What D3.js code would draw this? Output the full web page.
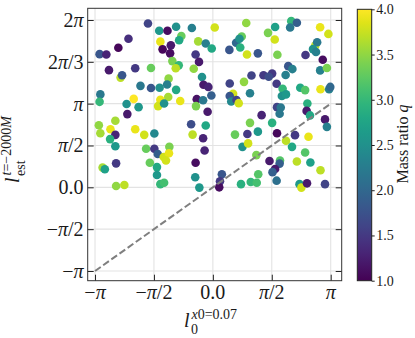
<!doctype html>
<html>
<head>
<style>
    body { margin: 0; background: #fff; }
    text { font-family: "Liberation Serif", "DejaVu Serif", serif; fill: #1a1a1a; }
</style>
<script src="https://d3js.org/d3.v7.min.js"></script>
</head>
<body>
<svg width="415" height="338"></svg>
<script>
// l0 (x), l_est (y) in radians and mass ratio q
var lx = [-1.73,-1.43,-1.21,-0.98,-0.56,-2.25,-2.52,-3.02,-2.84,-1.40,-1.12,-1.34,-1.14,-0.84,-0.90,-0.39,-0.19,-0.46,-0.37,-1.08,
          -0.91,-0.99,-0.51,-2.77,-2.07,-1.65,-2.46,-2.42,-1.18,-0.29,-3.00,-3.02,-1.93,-1.65,-1.42,-1.22,-0.98,-0.25,-0.12,-2.11,
          -1.40,-1.19,-0.87,-0.43,-0.26,-0.04,-1.46,-1.30,-2.30,-1.98,-2.28,-0.45,-0.14,-2.60,-3.04,-3.00,-2.73,-2.60,-2.74,-2.07,
          -1.83,-1.56,-2.60,-0.58,-0.19,-0.54,-0.26,-0.22,-1.78,-1.56,-1.16,-1.47,-1.31,-1.17,-1.25,-2.58,-1.68,-0.46,-2.94,-2.88,
          -1.49,-1.49,-1.40,-1.30,-2.58,-2.36,-0.47,-0.36,0.05,0.89,1.47,1.66,1.65,2.09,2.24,2.06,2.86,3.08,-0.03,0.62,
          0.77,0.71,0.44,0.73,0.91,1.20,1.72,2.47,2.73,2.78,2.67,2.75,2.93,2.86,3.04,2.01,2.12,1.03,0.83,1.35,
          1.58,1.49,1.70,1.94,1.86,1.84,1.95,2.33,2.46,2.87,3.10,3.13,0.45,0.54,0.45,0.49,0.63,0.69,0.99,1.71,
          1.81,1.78,1.30,0.99,1.58,1.20,0.59,0.92,1.71,2.19,2.55,2.52,2.50,2.59,2.99,3.04,0.79,0.94,1.95,2.11,
          2.46,1.16,1.51,1.79,1.78,2.24,2.60,2.87,1.66,1.59,1.70,2.31,2.36,2.51,2.99,0.24,0.19,0.17,0.75,1.01,
          1.17,1.21];
var ly = [6.15,5.88,5.88,6.03,5.98,5.58,5.24,5.00,4.99,5.47,5.33,5.18,5.03,5.68,5.52,5.48,5.40,4.99,4.71,4.74,
          4.58,4.47,4.45,4.40,4.47,4.48,4.12,4.21,4.08,4.14,3.49,3.21,3.81,3.73,3.74,3.86,3.66,3.85,3.77,3.32,
          3.29,3.39,3.24,3.31,3.27,3.45,3.05,3.15,3.13,3.01,2.75,3.05,2.84,2.50,2.33,2.03,2.18,1.97,1.81,2.18,
          1.97,2.02,1.54,2.37,2.32,1.98,1.84,1.38,1.45,1.45,1.52,1.25,1.14,1.28,1.01,0.90,0.92,0.92,0.74,0.68,
          0.76,0.46,0.12,0.17,0.05,0.09,0.38,-0.01,6.00,6.17,5.80,6.02,5.55,6.24,6.18,6.00,6.01,5.76,5.21,5.43,
          5.66,5.58,5.16,5.25,4.99,5.03,4.98,4.97,5.32,5.45,5.19,5.08,4.79,4.39,4.48,4.55,4.44,4.20,3.96,4.21,
          4.27,4.15,3.89,4.22,3.70,3.43,3.49,3.74,3.65,3.68,3.68,3.77,3.90,3.51,3.43,3.22,3.28,3.16,3.53,3.01,
          3.00,2.76,2.71,2.42,2.42,2.09,1.98,2.00,2.03,1.96,1.90,3.15,2.87,2.70,2.55,2.27,1.52,1.65,1.75,1.52,
          1.31,1.21,0.99,1.01,0.89,0.97,0.93,0.64,0.69,0.57,0.25,0.12,-0.01,0.15,0.12,0.49,0.23,0.00,0.12,0.20,
          0.17,0.49];
var q = [1.6,2.6,1.1,2.5,2.3,1.4,1.05,1.8,1.3,3.9,1.2,1.05,1.1,3.3,2.8,3.6,2.3,1.5,1.2,3.4,
         3.0,3.7,3.5,1.2,1.5,3.3,3.7,1.8,3.5,2.5,2.2,3.0,2.2,1.8,2.5,2.3,2.8,1.2,1.3,4.0,
         3.9,3.6,3.9,1.15,2.2,1.9,3.8,2.5,2.5,2.6,1.2,3.4,1.2,3.6,3.5,3.6,3.9,1.3,2.9,3.9,
         3.8,2.4,2.6,1.7,2.8,3.7,1.3,1.3,3.3,1.5,3.4,1.9,3.8,3.9,3.8,1.5,3.3,1.1,3.6,2.7,
         2.8,2.6,3.0,3.1,3.5,3.7,2.5,2.6,3.8,3.5,3.4,2.7,3.8,3.0,1.9,2.2,3.9,3.8,2.8,2.0,
         3.3,2.5,1.8,2.9,3.8,1.8,3.4,1.5,3.7,2.2,2.5,2.3,1.1,2.3,3.4,1.8,2.3,1.6,3.5,1.5,
         1.5,1.7,1.5,2.3,3.0,2.5,2.6,2.8,3.2,3.9,2.3,2.0,1.6,3.8,1.8,2.4,1.6,3.8,2.3,1.6,
         2.2,2.2,1.3,3.4,2.9,2.6,3.3,1.5,1.05,1.5,3.9,2.9,1.2,2.8,1.2,2.3,2.5,3.8,3.7,2.8,
         3.2,3.4,1.2,3.2,1.9,3.7,2.7,3.7,1.2,1.9,2.1,2.6,3.8,1.2,1.6,1.8,1.5,1.1,2.9,3.0,
         3.1,3.2];

var PI = Math.PI;
var xTicks = [-PI, -PI / 2, 0, PI / 2, PI];
var xTickLabels = ["−π", "−π/2", "0.0", "π/2", "π"];
var yTicks = [-PI, -PI / 2, 0, PI / 2, PI, 3 * PI / 2, 2 * PI];
var yTickLabels = ["−π", "−π/2", "0.0", "π/2", "π", "2π/3", "2π"];
var cbTicks = [1.0, 1.5, 2.0, 2.5, 3.0, 3.5, 4.0];

var svg = d3.select("svg");
var pLeft = 87.7, pRight = 341.7, pTop = 8.3, pBottom = 280.7;

var x = d3.scaleLinear().domain([-3.337, 3.435]).range([pLeft, pRight]);
var y = d3.scaleLinear().domain([-3.506, 6.722]).range([pBottom, pTop]);
var color = d3.scaleSequential(d3.interpolateViridis).domain([1, 4]);

// write a label with an italic pi
function mathText(sel, s) {
    Array.from(s).forEach(function(c) {
        sel.append("tspan").text(c).style("font-style", c === "π" ? "italic" : "normal");
    });
}

// grid
svg.append("g").selectAll("line").data(xTicks).enter().append("line")
    .attr("x1", function(d) { return x(d); }).attr("x2", function(d) { return x(d); })
    .attr("y1", pTop).attr("y2", pBottom)
    .attr("stroke", "#e3e3e3").attr("stroke-width", 1.1);
svg.append("g").selectAll("line").data(yTicks).enter().append("line")
    .attr("y1", function(d) { return y(d); }).attr("y2", function(d) { return y(d); })
    .attr("x1", pLeft).attr("x2", pRight)
    .attr("stroke", "#e3e3e3").attr("stroke-width", 1.1);

// points
svg.append("g").selectAll("circle")
    .data(d3.range(lx.length))
    .enter().append("circle")
    .attr("cx", function(i) { return x(lx[i]); })
    .attr("cy", function(i) { return y(ly[i]); })
    .attr("r", 4.3)
    .attr("fill", function(i) { return color(q[i]); });

// y = x guide
svg.append("line")
    .attr("x1", x(-PI)).attr("y1", y(-PI))
    .attr("x2", x(PI)).attr("y2", y(PI))
    .attr("stroke", "#7f7f7f").attr("stroke-width", 2)
    .attr("stroke-dasharray", "7,3");

// axes, ticks pointing in
function tidy(g) {
    g.select(".domain").remove();
    g.selectAll(".tick line").attr("stroke", "#222").attr("stroke-width", 1);
}
svg.append("g").attr("transform", "translate(" + pLeft + ",0)")
    .call(d3.axisLeft(y).tickValues(yTicks).tickSize(-6).tickFormat("")).call(tidy);
svg.append("g").attr("transform", "translate(" + pRight + ",0)")
    .call(d3.axisRight(y).tickValues(yTicks).tickSize(-6).tickFormat("")).call(tidy);
svg.append("g").attr("transform", "translate(0," + pBottom + ")")
    .call(d3.axisBottom(x).tickValues(xTicks).tickSize(-6).tickFormat("")).call(tidy);

svg.append("rect")
    .attr("x", pLeft).attr("y", pTop)
    .attr("width", pRight - pLeft).attr("height", pBottom - pTop)
    .attr("fill", "none").attr("stroke", "#333").attr("stroke-width", 1);

// tick labels
yTicks.forEach(function(v, i) {
    var t = svg.append("text")
        .attr("x", 83.5).attr("y", y(v)).attr("dy", "0.35em")
        .attr("text-anchor", "end").attr("font-size", 20);
    mathText(t, yTickLabels[i]);
});
xTicks.forEach(function(v, i) {
    var t = svg.append("text")
        .attr("x", x(v)).attr("y", 298.5)
        .attr("text-anchor", "middle").attr("font-size", 20);
    mathText(t, xTickLabels[i]);
});

// x label: l_0^{x0=0.07}
var xl = svg.append("g").attr("transform", "translate(184,326.5)");
xl.append("text").attr("font-size", 20).style("font-style", "italic").text("l");
xl.append("text").attr("x", 7).attr("y", 7).attr("font-size", 14).text("0");
var xs = xl.append("text").attr("x", 7.5).attr("y", -8).attr("font-size", 14);
xs.append("tspan").style("font-style", "italic").text("x");
xs.append("tspan").text("0=0.07");

// y label: l_est^{t=-2000M}
var yl = svg.append("g").attr("transform", "translate(19,183) rotate(-90)");
yl.append("text").attr("font-size", 20).style("font-style", "italic").text("l");
yl.append("text").attr("x", 7).attr("y", 6).attr("font-size", 14).text("est");
var ys = yl.append("text").attr("x", 7.5).attr("y", -8).attr("font-size", 14);
ys.append("tspan").style("font-style", "italic").text("t");
ys.append("tspan").text("=−2000");
ys.append("tspan").style("font-style", "italic").text("M");

// colorbar
var cbLeft = 357.3, cbRight = 371.7, cbTop = 9.3, cbBottom = 280.7;
var cb = d3.scaleLinear().domain([1, 4]).range([cbBottom, cbTop]);
var grad = svg.append("defs").append("linearGradient")
    .attr("id", "vir").attr("x1", 0).attr("y1", 1).attr("x2", 0).attr("y2", 0);
d3.range(0, 1.0001, 0.05).forEach(function(t) {
    grad.append("stop").attr("offset", t).attr("stop-color", d3.interpolateViridis(t));
});
svg.append("rect")
    .attr("x", cbLeft).attr("y", cbTop)
    .attr("width", cbRight - cbLeft).attr("height", cbBottom - cbTop)
    .attr("fill", "url(#vir)").attr("stroke", "#222").attr("stroke-width", 1);

var cbAxis = svg.append("g").attr("transform", "translate(" + cbRight + ",0)")
    .call(d3.axisRight(cb).tickValues(cbTicks).tickSize(3).tickPadding(1.5).tickFormat(d3.format(".1f")))
    .call(tidy);
cbAxis.selectAll("text")
    .attr("font-size", 14).attr("fill", "#1a1a1a")
    .style("font-family", "Liberation Serif, DejaVu Serif, serif");

var cl = svg.append("text")
    .attr("transform", "translate(408,144) rotate(-90)")
    .attr("text-anchor", "middle").attr("font-size", 16);
cl.append("tspan").text("Mass ratio ");
cl.append("tspan").style("font-style", "italic").text("q");
</script>
</body>
</html>
